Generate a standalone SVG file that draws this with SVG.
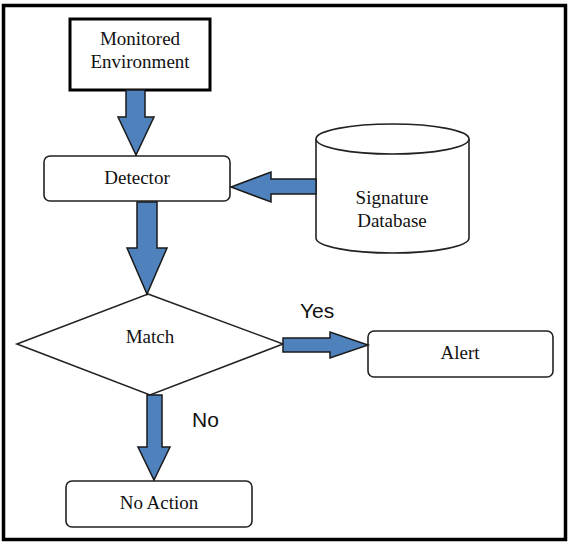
<svg xmlns="http://www.w3.org/2000/svg" width="572" height="545" viewBox="0 0 572 545">
<style>
.box{fill:#fff;stroke:#222;stroke-width:1.6}
.lbl{font-family:"Liberation Serif","Times New Roman",serif;font-size:19px;fill:#111;text-anchor:middle}
.sl{font-family:"Liberation Sans",Arial,sans-serif;font-size:21px;fill:#111}
.arr{fill:#4F81BD;stroke:#1a1a1a;stroke-width:1.5;stroke-linejoin:miter}
</style>
<rect x="0" y="0" width="572" height="545" fill="#fff"/>
<rect x="3.5" y="5.5" width="562" height="534" fill="none" stroke="#000" stroke-width="3.5"/>
<g id="monitored">
<rect x="70" y="19" width="140" height="71" fill="#fff" stroke="#000" stroke-width="3"/>
<text class="lbl" x="140" y="45">Monitored</text>
<text class="lbl" x="140" y="68">Environment</text>
</g>
<g id="detector">
<rect class="box" x="44" y="156" width="186" height="45" rx="6"/>
<text class="lbl" x="137" y="184">Detector</text>
</g>
<g id="database">
<path class="box" d="M316,139 L316,238 A76.5,15 0 0 0 469,238 L469,139"/>
<ellipse class="box" cx="392.5" cy="139" rx="76.5" ry="15"/>
<text class="lbl" x="392" y="204">Signature</text>
<text class="lbl" x="392" y="227">Database</text>
</g>
<g id="match">
<polygon class="box" points="148,294 283,344 150,395 17,344"/>
<text class="lbl" x="150" y="343">Match</text>
</g>
<g id="alert">
<rect class="box" x="368" y="331" width="185" height="46" rx="6"/>
<text class="lbl" x="460" y="359">Alert</text>
</g>
<g id="noaction">
<rect class="box" x="66" y="481" width="186" height="46" rx="6"/>
<text class="lbl" x="159" y="509">No Action</text>
</g>
<g id="connectors">
<polygon class="arr" points="126,90 145,90 145,117 154,117 136,155 118,117 126,117"/>
<polygon class="arr" points="137,202 157,202 157,248 167,248 147,294 127,248 137,248"/>
<polygon class="arr" points="316,179 316,194 271,194 271,202 231,187 271,172 271,179"/>
<polygon class="arr" points="283,338 330,338 330,332 368,345 330,358 330,352 283,352"/>
<polygon class="arr" points="147,395 162,395 162,447 170,447 154,480 138,447 147,447"/>
<text class="sl" x="300" y="318">Yes</text>
<text class="sl" x="192" y="427" font-size="23">No</text>
</g>
</svg>
